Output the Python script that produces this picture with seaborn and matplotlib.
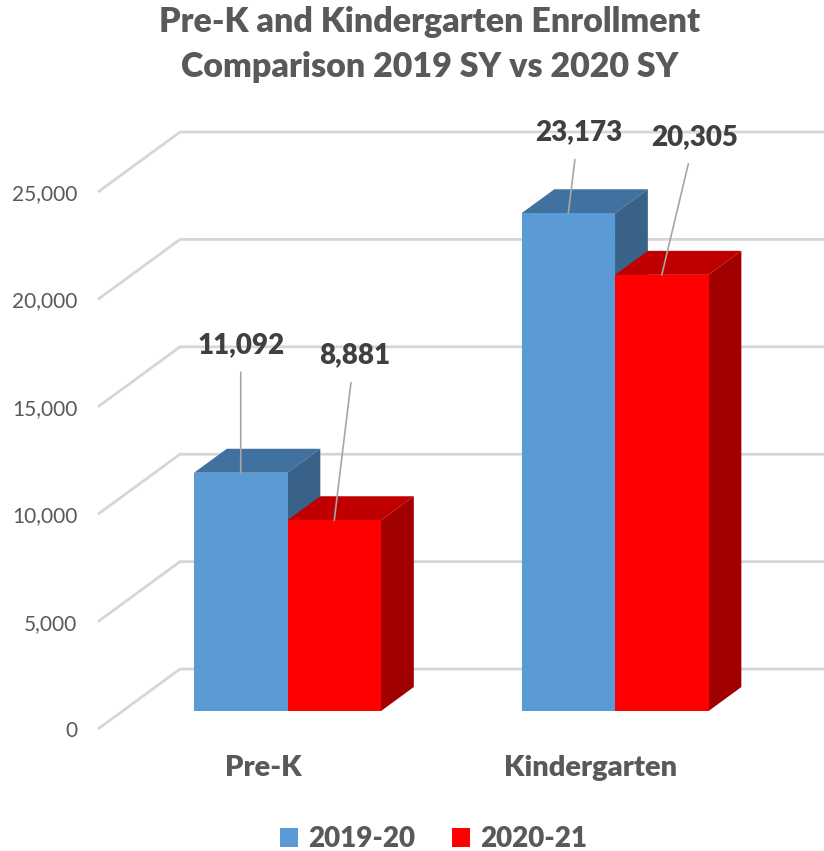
import numpy as np
import pandas as pd
import seaborn as sns
import matplotlib.pyplot as plt
from matplotlib.patches import Polygon

categories = ["Pre-K", "Kindergarten"]
years = ["2019-20", "2020-21"]
enroll_2019 = [11092, 23173]
enroll_2020 = [8881, 20305]
y_ticks = [0, 5000, 10000, 15000, 20000, 25000]

df = pd.DataFrame({
    "category": categories * 2,
    "year": [years[0]] * 2 + [years[1]] * 2,
    "enrollment": enroll_2019 + enroll_2020,
})

front = {"2019-20": "#5B9BD5", "2020-21": "#FF0000"}
top = {"2019-20": "#41729F", "2020-21": "#C00000"}
side = {"2019-20": "#386287", "2020-21": "#A00000"}
grid_c = "#D6D6D6"
text_c = "#595959"

# fake 3d depth vector in data units (full depth of the plot box)
DX, DY = 0.2504, 2793
BAR_DEPTH = 0.4
FRONT_GAP = 0.3  # bars sit this far back from the front edge

sns.set_theme(style="white")
plt.rcParams["font.family"] = ["Lato", "DejaVu Sans"]

fig = plt.figure(figsize=(8.24, 8.51), dpi=100)
ax = fig.add_axes([98 / 824, (851 - 732.5) / 851, 726 / 824, 612.2 / 851])

sns.barplot(data=df, x="category", y="enrollment", hue="year", palette=front,
            width=0.571, saturation=1, linewidth=0, errorbar=None, ax=ax, zorder=3)

ax.set_xlim(-0.5786, 1.638)
ax.set_ylim(-1000, 27500)

# side wall + back wall gridlines
for v in y_ticks:
    xs = [-0.5786, -0.5786 + DX, 1.638]
    ys = [v - FRONT_GAP * DY, v + (1 - FRONT_GAP) * DY, v + (1 - FRONT_GAP) * DY]
    ax.plot(xs, ys, color=grid_c, lw=2.0, zorder=1, clip_on=False, solid_capstyle="butt")

# top and side faces of each bar + labels
dx, dy = BAR_DEPTH * DX, BAR_DEPTH * DY
label_offsets = [[(0, 128), (10, 81)], [(20, 165), (33, 138)]]
for i, (cont, yr) in enumerate(zip(ax.containers, years)):
    for j, bar in enumerate(cont):
        x0, w, h = bar.get_x(), bar.get_width(), bar.get_height()
        x1 = x0 + w
        ax.add_patch(Polygon([(x0, h), (x0 + dx, h + dy), (x1 + dx, h + dy), (x1, h)],
                             closed=True, facecolor=top[yr], edgecolor="none", zorder=2 + i * 0.1))
        ax.add_patch(Polygon([(x1, 0), (x1 + dx, dy), (x1 + dx, h + dy), (x1, h)],
                             closed=True, facecolor=side[yr], edgecolor="none", zorder=2 + i * 0.1))
        ox, oy = label_offsets[i][j]
        ax.annotate(f"{h:,.0f}", xy=(x0 + w / 2, h), xytext=(ox * 0.72, oy * 0.72),
                    textcoords="offset points", ha="center", va="center",
                    fontsize=20, fontweight="heavy", color="#404040",
                    arrowprops=dict(arrowstyle="-", color="#A6A6A6", lw=1.2,
                                    shrinkA=8, shrinkB=0), zorder=5)

ax.set_yticks(np.array(y_ticks) - FRONT_GAP * DY)
ax.set_yticklabels([f"{v:,}" for v in y_ticks], fontsize=15, color=text_c)
ax.set_xticks(np.arange(len(categories)) - FRONT_GAP * DX)
ax.set_xticklabels(categories, fontsize=21, fontweight="heavy", color=text_c)
ax.tick_params(axis="y", length=0, pad=15)
ax.tick_params(axis="x", length=0, pad=16)
ax.set_xlabel("")
ax.set_ylabel("")
sns.despine(ax=ax, left=True, bottom=True)
ax.grid(False)

sns.move_legend(ax, "center", bbox_to_anchor=(0.526, 12 / 851), bbox_transform=fig.transFigure,
                ncol=2, frameon=False, title=None, fontsize=20, labelcolor=text_c,
                handlelength=0.65, handleheight=0.65, handletextpad=0.36, columnspacing=1.33)
for t in ax.get_legend().get_texts():
    t.set_fontweight("heavy")

fig.text(0.521, 1 - 6 / 851, "Pre-K and Kindergarten Enrollment\nComparison 2019 SY vs 2020 SY",
         ha="center", va="top", fontsize=24.5, fontweight="heavy", color=text_c, linespacing=1.5)

fig.savefig("out.png", dpi=100)
